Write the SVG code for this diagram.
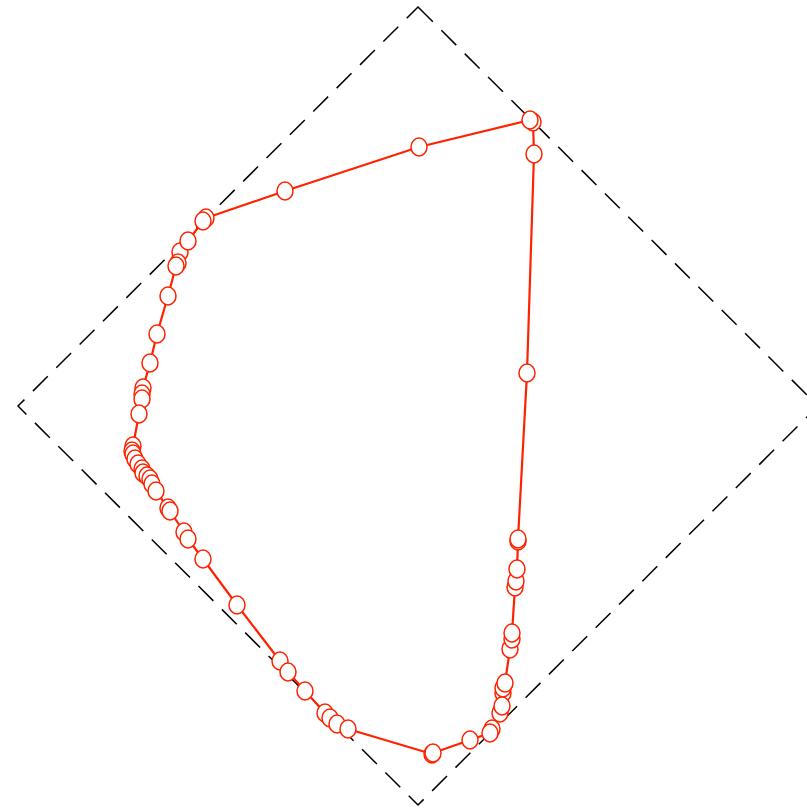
<svg xmlns="http://www.w3.org/2000/svg" width="807" height="810" viewBox="0 0 807 810">
<style>
.frame{fill:none;stroke:#000;stroke-width:1.5;stroke-dasharray:21,12}
.line{fill:none;stroke:#ff2200;stroke-width:2.2;stroke-linejoin:round}
.pt{fill:#fff;stroke:#ff2200;stroke-width:1.5}
</style>
<rect width="807" height="810" fill="#fff"/>
<g id="frame">
<polygon class="frame" points="418,7 818,406 418,805 18,406"/>
</g>
<g id="connectors">
<polyline class="line" points="530,120 533,122 534,154 527,373 518,539 518,541 517,569 516,581 515,587 512,633 512,639 510,649 505,683 503,688 503,693 502,706 500,713 492,729 490,733 470,740 433,753 432,754 348,729 337,724 330,718 325,713 305,691 288,672 280,661 237,605 203,559 188,539 184,532 170,511 168,508 156,491 152,484 150,479 147,476 143,473 142,469 138,464 135,459 133,454 132,451 133,446 139,414 142,399 142,394 143,388 150,363 157,334 168,296 176,266 178,263 180,252 188,241 203,221 206,218 285,191 419,147 530,120"/>
</g>
<g id="points">
<ellipse class="pt" cx="206" cy="218" rx="8" ry="9"/>
<ellipse class="pt" cx="203" cy="221" rx="8" ry="9"/>
<ellipse class="pt" cx="285" cy="191" rx="8" ry="9"/>
<ellipse class="pt" cx="419" cy="147" rx="8" ry="9"/>
<ellipse class="pt" cx="533" cy="122" rx="8" ry="9"/>
<ellipse class="pt" cx="530" cy="120" rx="8" ry="9"/>
<ellipse class="pt" cx="534" cy="154" rx="8" ry="9"/>
<ellipse class="pt" cx="527" cy="373" rx="8" ry="9"/>
<ellipse class="pt" cx="518" cy="541" rx="8" ry="9"/>
<ellipse class="pt" cx="518" cy="539" rx="8" ry="9"/>
<ellipse class="pt" cx="515" cy="587" rx="8" ry="9"/>
<ellipse class="pt" cx="516" cy="581" rx="8" ry="9"/>
<ellipse class="pt" cx="517" cy="569" rx="8" ry="9"/>
<ellipse class="pt" cx="510" cy="649" rx="8" ry="9"/>
<ellipse class="pt" cx="512" cy="639" rx="8" ry="9"/>
<ellipse class="pt" cx="512" cy="633" rx="8" ry="9"/>
<ellipse class="pt" cx="503" cy="693" rx="8" ry="9"/>
<ellipse class="pt" cx="503" cy="688" rx="8" ry="9"/>
<ellipse class="pt" cx="505" cy="683" rx="8" ry="9"/>
<ellipse class="pt" cx="500" cy="713" rx="8" ry="9"/>
<ellipse class="pt" cx="502" cy="706" rx="8" ry="9"/>
<ellipse class="pt" cx="492" cy="729" rx="8" ry="9"/>
<ellipse class="pt" cx="490" cy="733" rx="8" ry="9"/>
<ellipse class="pt" cx="470" cy="740" rx="8" ry="9"/>
<ellipse class="pt" cx="432" cy="754" rx="8" ry="9"/>
<ellipse class="pt" cx="433" cy="753" rx="8" ry="9"/>
<ellipse class="pt" cx="305" cy="691" rx="8" ry="9"/>
<ellipse class="pt" cx="325" cy="713" rx="8" ry="9"/>
<ellipse class="pt" cx="330" cy="718" rx="8" ry="9"/>
<ellipse class="pt" cx="337" cy="724" rx="8" ry="9"/>
<ellipse class="pt" cx="348" cy="729" rx="8" ry="9"/>
<ellipse class="pt" cx="280" cy="661" rx="8" ry="9"/>
<ellipse class="pt" cx="288" cy="672" rx="8" ry="9"/>
<ellipse class="pt" cx="237" cy="605" rx="8" ry="9"/>
<ellipse class="pt" cx="203" cy="559" rx="8" ry="9"/>
<ellipse class="pt" cx="184" cy="532" rx="8" ry="9"/>
<ellipse class="pt" cx="188" cy="539" rx="8" ry="9"/>
<ellipse class="pt" cx="168" cy="508" rx="8" ry="9"/>
<ellipse class="pt" cx="170" cy="511" rx="8" ry="9"/>
<ellipse class="pt" cx="133" cy="446" rx="8" ry="9"/>
<ellipse class="pt" cx="132" cy="451" rx="8" ry="9"/>
<ellipse class="pt" cx="133" cy="454" rx="8" ry="9"/>
<ellipse class="pt" cx="135" cy="459" rx="8" ry="9"/>
<ellipse class="pt" cx="138" cy="464" rx="8" ry="9"/>
<ellipse class="pt" cx="142" cy="469" rx="8" ry="9"/>
<ellipse class="pt" cx="143" cy="473" rx="8" ry="9"/>
<ellipse class="pt" cx="147" cy="476" rx="8" ry="9"/>
<ellipse class="pt" cx="150" cy="479" rx="8" ry="9"/>
<ellipse class="pt" cx="152" cy="484" rx="8" ry="9"/>
<ellipse class="pt" cx="156" cy="491" rx="8" ry="9"/>
<ellipse class="pt" cx="143" cy="388" rx="8" ry="9"/>
<ellipse class="pt" cx="142" cy="394" rx="8" ry="9"/>
<ellipse class="pt" cx="142" cy="399" rx="8" ry="9"/>
<ellipse class="pt" cx="139" cy="414" rx="8" ry="9"/>
<ellipse class="pt" cx="150" cy="363" rx="8" ry="9"/>
<ellipse class="pt" cx="157" cy="334" rx="8" ry="9"/>
<ellipse class="pt" cx="168" cy="296" rx="8" ry="9"/>
<ellipse class="pt" cx="180" cy="252" rx="8" ry="9"/>
<ellipse class="pt" cx="178" cy="263" rx="8" ry="9"/>
<ellipse class="pt" cx="176" cy="266" rx="8" ry="9"/>
<ellipse class="pt" cx="188" cy="241" rx="8" ry="9"/>
</g>
</svg>
